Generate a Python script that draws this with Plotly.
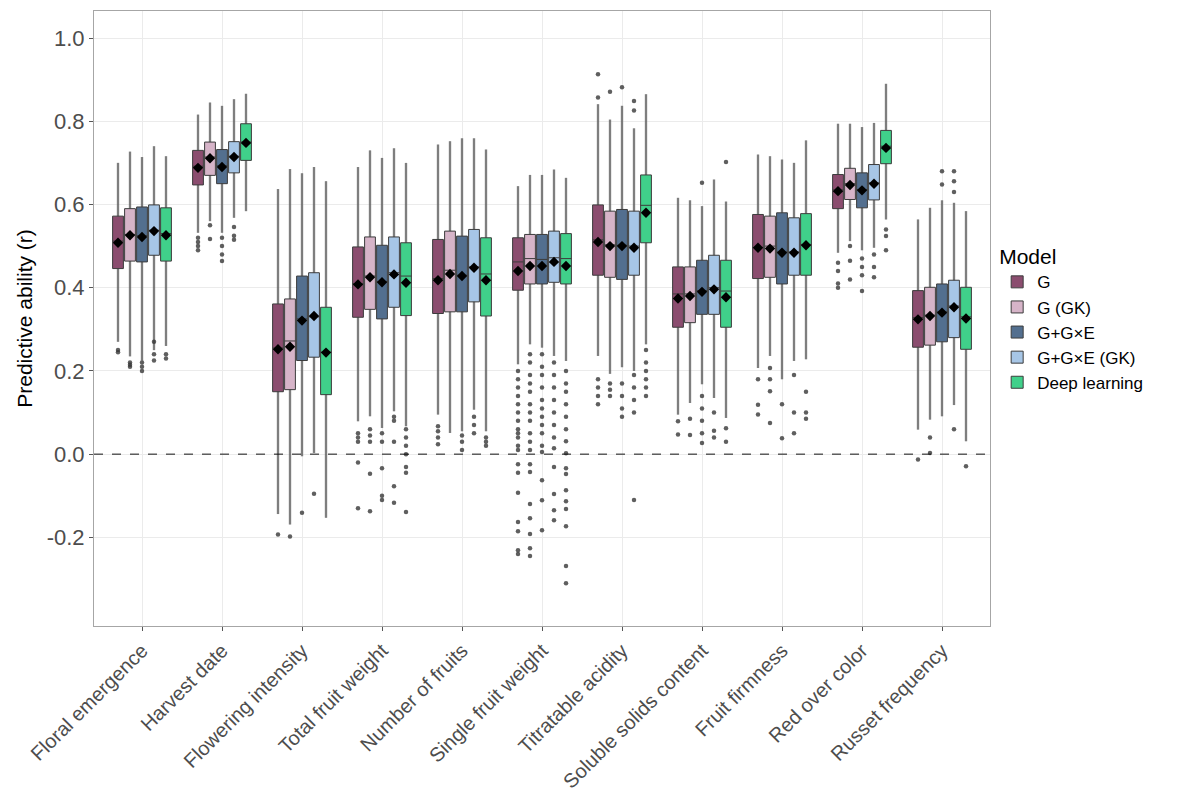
import plotly.graph_objects as go

traits = ["Floral emergence", "Harvest date", "Flowering intensity", "Total fruit weight",
          "Number of fruits", "Single fruit weight", "Titratable acidity",
          "Soluble solids content", "Fruit firmness", "Red over color", "Russet frequency"]
models = ["G", "G (GK)", "G+G×E", "G+G×E (GK)", "Deep learning"]
colors = ["#8B4D6F", "#D6B4C8", "#536F8F", "#A7C6E6", "#40D08A"]

# per model (rows) x trait (columns)
q1_vals = [
    [0.446, 0.647, 0.150, 0.329, 0.338, 0.394, 0.430, 0.305, 0.422, 0.590, 0.257],
    [0.464, 0.670, 0.155, 0.348, 0.342, 0.409, 0.425, 0.316, 0.425, 0.612, 0.262],
    [0.462, 0.650, 0.225, 0.325, 0.342, 0.409, 0.420, 0.336, 0.409, 0.592, 0.270],
    [0.478, 0.676, 0.233, 0.353, 0.366, 0.413, 0.430, 0.336, 0.430, 0.611, 0.280],
    [0.464, 0.706, 0.143, 0.333, 0.332, 0.409, 0.508, 0.305, 0.430, 0.698, 0.252],
]
q3_vals = [
    [0.572, 0.730, 0.361, 0.498, 0.516, 0.520, 0.599, 0.450, 0.576, 0.672, 0.393],
    [0.590, 0.750, 0.373, 0.522, 0.536, 0.528, 0.584, 0.450, 0.572, 0.687, 0.401],
    [0.594, 0.732, 0.428, 0.502, 0.524, 0.528, 0.588, 0.466, 0.580, 0.676, 0.409],
    [0.599, 0.751, 0.436, 0.522, 0.540, 0.536, 0.584, 0.478, 0.568, 0.696, 0.418],
    [0.592, 0.794, 0.353, 0.508, 0.520, 0.530, 0.671, 0.466, 0.578, 0.778, 0.401],
]
median_vals = [
    [0.512, 0.692, 0.255, 0.410, 0.422, 0.462, 0.515, 0.385, 0.497, 0.635, 0.328],
    [0.528, 0.714, 0.272, 0.428, 0.442, 0.470, 0.503, 0.385, 0.500, 0.650, 0.334],
    [0.525, 0.693, 0.325, 0.415, 0.430, 0.468, 0.502, 0.393, 0.486, 0.636, 0.342],
    [0.538, 0.716, 0.330, 0.436, 0.450, 0.472, 0.500, 0.400, 0.486, 0.652, 0.356],
    [0.530, 0.750, 0.245, 0.428, 0.433, 0.470, 0.598, 0.392, 0.504, 0.740, 0.330],
]
mean_vals = [
    [0.508, 0.688, 0.252, 0.408, 0.418, 0.440, 0.510, 0.374, 0.496, 0.632, 0.324],
    [0.526, 0.711, 0.258, 0.425, 0.433, 0.452, 0.500, 0.380, 0.494, 0.647, 0.332],
    [0.522, 0.690, 0.321, 0.413, 0.428, 0.452, 0.500, 0.390, 0.484, 0.634, 0.340],
    [0.536, 0.714, 0.332, 0.432, 0.448, 0.462, 0.496, 0.396, 0.484, 0.650, 0.353],
    [0.526, 0.748, 0.244, 0.412, 0.418, 0.452, 0.580, 0.377, 0.502, 0.736, 0.326],
]
lower_vals = [
    [0.270, 0.532, -0.144, 0.079, 0.095, 0.216, 0.236, 0.095, 0.207, 0.484, 0.059],
    [0.235, 0.560, -0.169, 0.091, 0.051, 0.264, 0.193, 0.123, 0.236, 0.512, 0.083],
    [0.225, 0.532, -0.005, 0.063, 0.055, 0.256, 0.209, 0.168, 0.180, 0.490, 0.091],
    [0.250, 0.568, 0.003, 0.103, 0.107, 0.236, 0.200, 0.135, 0.224, 0.496, 0.118],
    [0.260, 0.584, -0.153, 0.067, 0.055, 0.224, 0.264, 0.087, 0.228, 0.564, 0.031],
]
upper_vals = [
    [0.700, 0.816, 0.637, 0.690, 0.744, 0.644, 0.841, 0.616, 0.720, 0.794, 0.564],
    [0.727, 0.845, 0.685, 0.730, 0.752, 0.671, 0.804, 0.610, 0.716, 0.794, 0.592],
    [0.714, 0.837, 0.675, 0.712, 0.759, 0.671, 0.837, 0.596, 0.708, 0.786, 0.610],
    [0.740, 0.853, 0.690, 0.735, 0.759, 0.684, 0.783, 0.660, 0.700, 0.796, 0.604],
    [0.716, 0.866, 0.656, 0.700, 0.732, 0.664, 0.865, 0.607, 0.754, 0.890, 0.584],
]
outlier_vals = [
    [[0.25, 0.245], [0.52, 0.51, 0.50, 0.49], [-0.193], [0.05, 0.04, 0.03, -0.02, -0.13],
     [0.067, 0.055, 0.04, 0.024],
     [0.20, 0.18, 0.16, 0.14, 0.12, 0.10, 0.08, 0.06, 0.05, 0.04, 0.02, 0.01, -0.024, -0.045,
      -0.093, -0.163, -0.185, -0.231, -0.24],
     [0.913, 0.857, 0.18, 0.16, 0.14, 0.12], [0.079, 0.047], [0.18, 0.119, 0.095],
     [0.46, 0.44, 0.41, 0.40], [-0.013]],
    [[0.22, 0.215, 0.21], [0.55, 0.517], [-0.198], [0.06, 0.045, 0.03, -0.047, -0.137], [],
     [0.24, 0.22, 0.19, 0.17, 0.15, 0.12, 0.10, 0.08, 0.05, 0.03, 0.01, -0.024, -0.043, -0.12,
      -0.154, -0.192, -0.226, -0.245],
     [0.871, 0.17, 0.155, 0.14], [0.085, 0.046], [0.207, 0.18, 0.151, 0.075],
     [0.50, 0.465, 0.42], [0.04, 0.003]],
    [[0.22, 0.21, 0.20], [0.52, 0.50, 0.48, 0.464], [-0.141], [0.05, 0.03, -0.034, -0.10, -0.11],
     [0.045, 0.03, 0.01],
     [0.24, 0.21, 0.19, 0.16, 0.13, 0.11, 0.09, 0.07, 0.05, 0.02, 0.005, -0.063, -0.111, -0.183],
     [0.882, 0.17, 0.14, 0.11, 0.09], [0.652, 0.14, 0.11, 0.08, 0.05, 0.027], [0.12, 0.038],
     [0.47, 0.45, 0.43, 0.392], [0.680, 0.648]],
    [[0.27, 0.24, 0.225], [0.546, 0.525, 0.515], [-0.095], [0.09, 0.08, 0.03, -0.077, -0.117],
     [0.09, 0.07, 0.05],
     [0.22, 0.19, 0.16, 0.13, 0.10, 0.07, 0.04, 0.014, -0.031, -0.096, -0.135, -0.159],
     [0.849, 0.826, 0.19, 0.16, 0.13, 0.10, -0.11], [0.10, 0.056, 0.04], [0.19, 0.10, 0.05],
     [0.48, 0.45, 0.425], [0.68, 0.656, 0.63, 0.06]],
    [[0.24, 0.23], [], [], [0.06, 0.04, 0.02, 0.0, -0.031, -0.045, -0.139], [0.04, 0.03, 0.02],
     [0.20, 0.17, 0.15, 0.12, 0.09, 0.06, 0.031, 0.002, -0.034, -0.048, -0.087, -0.113, -0.132,
      -0.173, -0.269, -0.31],
     [0.25, 0.22, 0.20, 0.18, 0.16, 0.14], [0.702, 0.062, 0.03], [0.15, 0.10, 0.085],
     [0.54, 0.524, 0.49], [-0.029]],
]
y_ticks = [-0.2, 0.0, 0.2, 0.4, 0.6, 0.8, 1.0]

FONT = "Liberation Sans, Arial, sans-serif"
dodge = 0.15
nm = len(models)

fig = go.Figure()

# gray strips of raw points (behind boxes)
for m in range(nm):
    pos = [i + 1 + (m - (nm - 1) / 2) * dodge for i in range(len(traits))]
    fig.add_trace(go.Bar(
        x=pos, base=lower_vals[m],
        y=[h - l for h, l in zip(upper_vals[m], lower_vals[m])],
        width=0.034, marker=dict(color="rgba(150,150,150,0.6)", line=dict(width=0)),
        showlegend=False, hoverinfo="skip"))

# boxes
for m in range(nm):
    pos = [i + 1 + (m - (nm - 1) / 2) * dodge for i in range(len(traits))]
    fig.add_trace(go.Box(
        name=models[m], x=pos,
        q1=q1_vals[m], median=median_vals[m], q3=q3_vals[m],
        lowerfence=lower_vals[m], upperfence=upper_vals[m],
        width=0.135, whiskerwidth=0, boxpoints=False,
        fillcolor=colors[m], line=dict(color="#3c3c3c", width=1),
        showlegend=True))

# outliers
for m in range(nm):
    ox, oy = [], []
    for i in range(len(traits)):
        p = i + 1 + (m - (nm - 1) / 2) * dodge
        for v in outlier_vals[m][i]:
            ox.append(p)
            oy.append(v)
    fig.add_trace(go.Scatter(
        x=ox, y=oy, mode="markers",
        marker=dict(color="rgba(55,55,55,0.8)", size=4.5),
        showlegend=False, hoverinfo="skip"))

# means
for m in range(nm):
    pos = [i + 1 + (m - (nm - 1) / 2) * dodge for i in range(len(traits))]
    fig.add_trace(go.Scatter(
        x=pos, y=mean_vals[m], mode="markers",
        marker=dict(symbol="diamond", color="black", size=8),
        showlegend=False, hoverinfo="skip"))

fig.add_hline(y=0, line=dict(color="#111111", width=1, dash="dash"))

fig.update_layout(
    width=1170, height=805,
    margin=dict(l=86, r=188, t=3, b=187),
    paper_bgcolor="white", plot_bgcolor="white",
    barmode="overlay", boxmode="overlay",
    font=dict(family=FONT, color="#4d4d4d"),
    legend=dict(
        title=dict(text="Model", font=dict(size=21, color="black")),
        font=dict(size=17, color="black"),
        x=1.008, xanchor="left", y=0.5, yanchor="middle",
        tracegroupgap=0, itemwidth=30,
    ),
    xaxis=dict(
        range=[0.4, len(traits) + 0.6],
        tickmode="array", tickvals=list(range(1, len(traits) + 1)), ticktext=traits,
        tickangle=-45, tickfont=dict(size=20, color="#4d4d4d"),
        showgrid=True, gridcolor="#ebebeb", gridwidth=1,
        ticks="outside", ticklen=4, tickcolor="#555555",
        showline=True, linecolor="#a6a6a6", linewidth=1, mirror=True,
        zeroline=False,
    ),
    yaxis=dict(
        range=[-0.413, 1.065],
        tickmode="array", tickvals=y_ticks, ticktext=[f"{v:.1f}" for v in y_ticks],
        tickfont=dict(size=22, color="#4d4d4d"),
        title=dict(text="Predictive ability (r)", font=dict(size=21, color="black"), standoff=8),
        showgrid=True, gridcolor="#ebebeb", gridwidth=1,
        ticks="outside", ticklen=4, tickcolor="#555555",
        showline=True, linecolor="#a6a6a6", linewidth=1, mirror=True,
        zeroline=False,
    ),
)

fig.write_html("out.html")
